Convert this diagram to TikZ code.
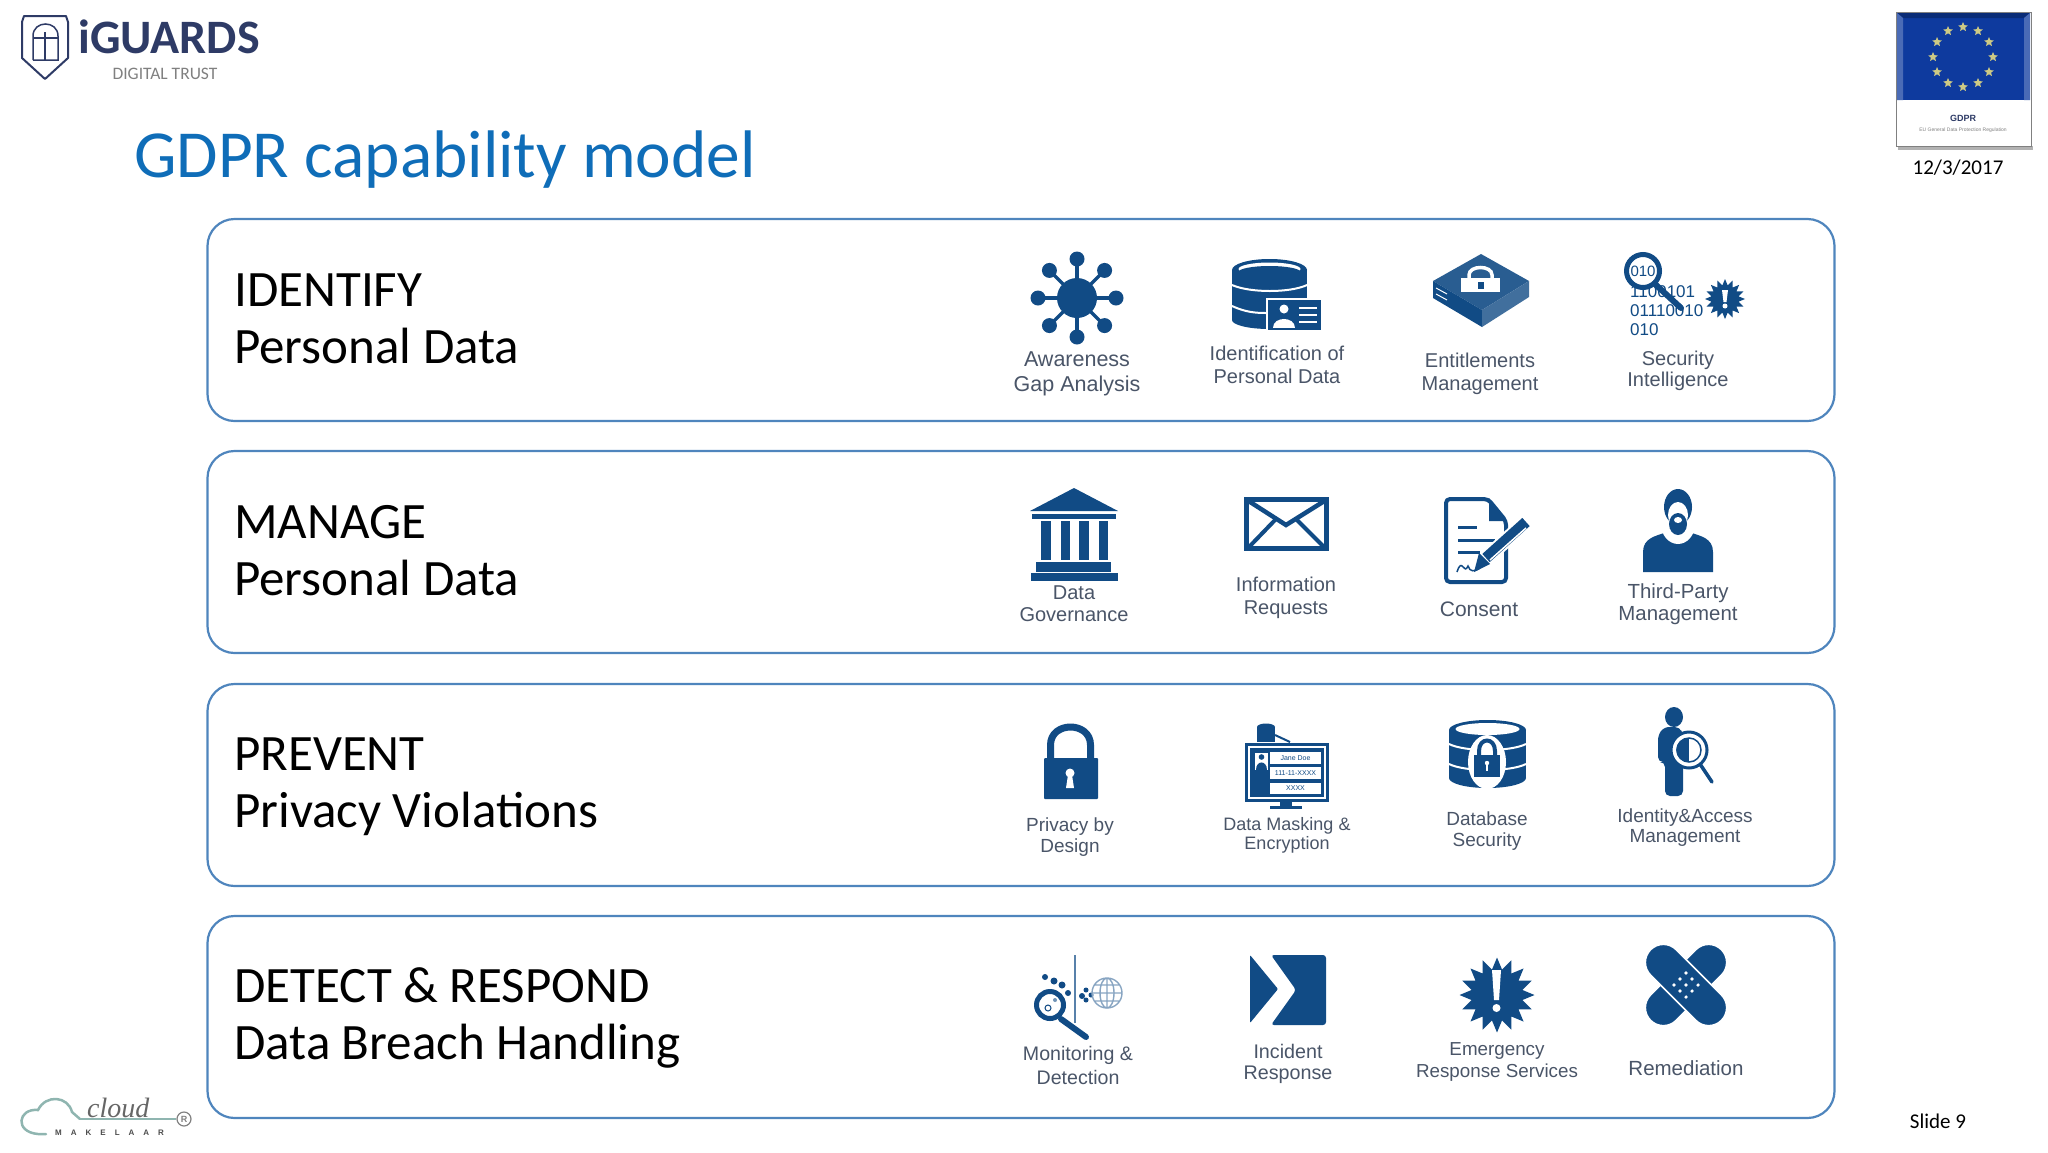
\documentclass[tikz,border=0pt]{standalone}
\usepackage{fontspec}
\setmainfont{Carlito}
\newfontfamily\arialfont{Liberation Sans}
\newfontfamily\serifitfont{Liberation Serif}
\usepackage{tikz}
\usetikzlibrary{shapes.geometric, positioning}
\definecolor{iconblue}{HTML}{114B85}
\definecolor{lblgrey}{HTML}{4A5568}
\definecolor{boxblue}{HTML}{4F85BD}
\definecolor{titleblue}{HTML}{0F6DB8}
\definecolor{navy}{HTML}{2E3B66}
\definecolor{cloudteal}{HTML}{8FB5B0}
\definecolor{flagblue}{HTML}{0E3A9E}
\tikzstyle{rowbox}=[draw=boxblue, line width=2.2pt, fill=white, rounded corners=27pt, minimum width=1627pt, minimum height=202pt, inner sep=0pt]
\tikzstyle{head}=[anchor=west, align=left, inner sep=0pt, text=black, font=\fontsize{51}{57}\selectfont]
\tikzstyle{lbl}=[align=center, inner sep=0pt, text=lblgrey, font=\arialfont\fontsize{20}{23.5}\selectfont]
\tikzstyle{slbl}=[lbl, font=\arialfont\fontsize{19}{21}\selectfont]
\tikzstyle{small}=[inner sep=0pt, text=black, font=\fontsize{21}{24}\selectfont]
\tikzstyle{ico}=[fill=iconblue, draw=none]
\tikzstyle{hole}=[fill=white, draw=none]
\tikzstyle{burst}=[star, star points=16, star point ratio=1.45, fill=iconblue, inner sep=0pt]
\tikzstyle{eustar}=[star, star points=5, star point ratio=2.2, fill=yellow!45!gray!80, inner sep=0pt, minimum size=10pt]
\begin{document}
\begin{tikzpicture}[x=1pt, y=-1pt]
 \useasboundingbox (0,0) rectangle (2048,1152);

 % logo
 \draw[navy, line width=2pt, line join=round] (24,16) -- (66,16) -- (68,22) -- (68,58) -- (45,79) -- (22,58) -- (22,22) -- cycle;
 \draw[navy, line width=1.5pt] (33,60) -- (33,36) .. controls (33,20) and (58,20) .. (58,36) -- (58,60) -- (33,60);
 \draw[navy, line width=1.5pt] (33,38) -- (58,38) (45,32) -- (45,60);
 \node[inner sep=0pt, anchor=west, text=navy, font=\fontsize{48}{48}\selectfont\bfseries] (iguards) at (78,37) {iGUARDS};
 \node[inner sep=0pt, text=gray, font=\fontsize{17.5}{20}\selectfont] (trust) at (165,74) {DIGITAL TRUST};
 \node[inner sep=0pt, anchor=west, text=titleblue, font=\fontsize{67.3}{68}\selectfont] (title) at (134,160) {GDPR capability model};

 % flag
 \fill[black!30] (1898,146) rectangle (2033,150);
 \draw[gray, fill=white] (1896,12) rectangle (2031,146);
 \fill[flagblue] (1897,13) rectangle (2030,100);
 \fill[flagblue!75!black] (1897,13) -- (2030,13) -- (2024,18) -- (1903,18) -- cycle;
 \fill[flagblue!75!white] (1897,13) -- (1903,18) -- (1903,100) -- (1897,100) -- cycle;
 \fill[flagblue!75!white] (2030,13) -- (2024,18) -- (2024,100) -- (2030,100) -- cycle;
 \coordinate (flagc) at (1963,57);
 \foreach \a in {0,30,...,330} \node[eustar] at ([shift={(\a:30)}]flagc) {};
 \node[inner sep=0pt, text=navy, font=\arialfont\fontsize{9}{10}\selectfont\bfseries] (gdpr) at (1963,118) {GDPR};
 \node[inner sep=0pt, text=gray, font=\arialfont\fontsize{5}{6}\selectfont] (gdprsub) at (1963,130) {EU General Data Protection Regulation};
 \node[small] (date) at (1958,168) {12/3/2017};
 \node[small] (slide) at (1938,1121) {Slide 9};

 % cloud logo
 \draw[cloudteal, line width=2.5pt, line cap=round] (46,1134) -- (38,1134) .. controls (14,1132) and (18,1108) .. (38,1110) .. controls (46,1094) and (68,1096) .. (72,1112) -- (80,1119);
 \draw[cloudteal, line width=2pt] (80,1119) -- (176,1119);
 \draw[gray, line width=1.2pt] (184,1119) circle (7);
 \node[inner sep=0pt, text=gray, font=\arialfont\fontsize{9}{9}\selectfont\bfseries] (reg) at (184,1119) {R};
 \node[inner sep=0pt, anchor=west, text=gray!80!black, font=\serifitfont\itshape\fontsize{28}{28}\selectfont] (cloud) at (87,1108) {cloud};
 \node[inner sep=0pt, anchor=west, text=gray!60!black, font=\arialfont\fontsize{8}{8}\selectfont\bfseries] (makelaar) at (55,1133) {M\hspace{9pt}A\hspace{9pt}K\hspace{9pt}E\hspace{9pt}L\hspace{9pt}A\hspace{9pt}A\hspace{9pt}R};

 % rows
 \node[rowbox] (rowa) at (1021,320) {};
 \node[rowbox] (rowb) at (1021,552) {};
 \node[rowbox] (rowc) at (1021,785) {};
 \node[rowbox] (rowd) at (1021,1017) {};
 \node[head] (identify) at (234,319) {IDENTIFY\\Personal Data};
 \node[head] (manage) at (234,551) {MANAGE\\Personal Data};
 \node[head] (prevent) at (234,787) {PREVENT\\Privacy Violations};
 \node[head] (detect) at (234,1018) {DETECT \& RESPOND\\Data Breach Handling};

 % labels
 \node[lbl, font=\arialfont\fontsize{21.5}{24.5}\selectfont] (awareness) at (1077,374) {Awareness\\Gap Analysis};
 \node[lbl] (identification) at (1277,365) {Identification of\\Personal Data};
 \node[lbl] (entitlements) at (1480,374) {Entitlements\\Management};
 \node[lbl, font=\arialfont\fontsize{20}{21.5}\selectfont] (intelligence) at (1678,371) {Security\\Intelligence};
 \node[lbl, font=\arialfont\fontsize{20}{22}\selectfont] (governance) at (1074,604) {Data\\Governance};
 \node[lbl] (requests) at (1286,598) {Information\\Requests};
 \node[lbl, font=\arialfont\fontsize{21}{24}\selectfont] (consent) at (1479,609) {Consent};
 \node[lbl, font=\arialfont\fontsize{20.4}{21.5}\selectfont] (thirdparty) at (1678,604) {Third-Party\\Management};
 \node[slbl] (privacy) at (1070,837) {Privacy by\\Design};
 \node[slbl, font=\arialfont\fontsize{18}{19}\selectfont] (masking) at (1287,835) {Data Masking \&\\Encryption};
 \node[slbl] (dbsecurity) at (1487,831) {Database\\Security};
 \node[slbl, font=\arialfont\fontsize{19}{20}\selectfont] (access) at (1685,828) {Identity\&Access\\Management};
 \node[lbl, font=\arialfont\fontsize{19.6}{24}\selectfont] (monitoring) at (1078,1065) {Monitoring \&\\Detection};
 \node[lbl, font=\arialfont\fontsize{19.7}{21}\selectfont] (incident) at (1288,1064) {Incident\\Response};
 \node[slbl, font=\arialfont\fontsize{18.8}{22}\selectfont] (emergency) at (1497,1062) {Emergency\\Response Services};
 \node[lbl, font=\arialfont\fontsize{20.5}{24}\selectfont] (remediation) at (1686,1068) {Remediation};

 % awareness
 \foreach \a in {0,45,...,315} {
   \draw[iconblue, line width=3.5pt] (1077,298) -- ++(\a:38);
   \fill[iconblue] (1077,298) ++(\a:39) circle (7.5);
 }
 \fill[ico] (1077,298) circle (20);

 % identification
 \fill[ico] (1232,270) rectangle (1307,320);
 \fill[ico] (1269.5,320) ellipse [x radius=37.5, y radius=9];
 \fill[ico] (1269.5,270) ellipse [x radius=37.5, y radius=11];
 \fill[hole] (1269.5,269) ellipse [x radius=31, y radius=6.5];
 \fill[ico] (1269.5,272) ellipse [x radius=31, y radius=6];
 \draw[white, line width=2pt] (1232,285) .. controls (1250,293) and (1290,293) .. (1307,285);
 \draw[white, line width=2pt] (1232,306) .. controls (1245,312) and (1255,313) .. (1266,313);
 \draw[ico, draw=white, line width=1.5pt] (1267,299) rectangle (1322,331);
 \fill[hole] (1284,309) circle (4.5);
 \fill[hole] (1273,328) .. controls (1273,316) and (1295,316) .. (1295,328) -- cycle;
 \draw[white, line width=1.4pt] (1299,308) -- (1317,308) (1299,315) -- (1317,315) (1299,322) -- (1317,322);

 % entitlements
 \fill[iconblue!90!white] (1481,254) -- (1529,281) -- (1482,310) -- (1433,281) -- cycle;
 \fill[iconblue] (1433,281) -- (1482,310) -- (1482,327) -- (1433,298) -- cycle;
 \fill[iconblue!80!white] (1529,281) -- (1529,297) -- (1482,327) -- (1482,310) -- cycle;
 \draw[white, line width=1pt] (1436,288) -- (1447,294) (1436,294) -- (1447,300);
 \fill[hole] (1461,278) rectangle (1500,292);
 \draw[white, line width=3.5pt] (1469,278) -- (1469,275) .. controls (1469,265) and (1492,265) .. (1492,275) -- (1492,278);
 \fill[iconblue] (1478,282) rectangle (1484,289);

 % security intelligence
 \node[inner sep=0pt, anchor=west, text=iconblue, font=\arialfont\fontsize{17}{18}\selectfont] (binb) at (1630,292) {1100101};
 \node[inner sep=0pt, anchor=west, text=iconblue, font=\arialfont\fontsize{17}{18}\selectfont] (binc) at (1630,311) {01110010};
 \node[inner sep=0pt, anchor=west, text=iconblue, font=\arialfont\fontsize{17}{18}\selectfont] (bind) at (1630,330) {010};
 \draw[iconblue, line width=6pt, line cap=round] (1656,285) -- (1681,308);
 \draw[iconblue, fill=white, line width=5pt] (1643,271) circle (16.5);
 \node[inner sep=0pt, text=iconblue, font=\arialfont\fontsize{15}{16}\selectfont] (bina) at (1643,271) {010};
 \node[burst, minimum size=40pt] (bursta) at (1725,299) {};
 \fill[hole] (1722,290) -- (1728,290) -- (1726.5,302) -- (1723.5,302) -- cycle;
 \fill[hole] (1725,306) circle (2.5);

 % governance
 \fill[ico] (1074,488) -- (1118,511) -- (1030,511) -- cycle;
 \fill[ico] (1032,514) rectangle (1116,519);
 \foreach \x in {1041,1060.5,1079,1098.5} \fill[ico] (\x,521) rectangle (\x+9.5,560);
 \fill[ico] (1036,562) rectangle (1111,572);
 \fill[ico] (1031,573) rectangle (1118,581);

 % requests
 \draw[iconblue, fill=white, line width=5pt] (1246.5,499.5) rectangle (1326.5,548.5);
 \draw[iconblue, line width=4.5pt] (1247,500) -- (1286,525) -- (1326,500);
 \draw[iconblue, line width=4pt] (1249,547) -- (1276,519) (1324,547) -- (1296,519);

 % consent
 \draw[iconblue, fill=white, line width=4pt, rounded corners=4pt] (1446,499) -- (1488,499) -- (1506,521) -- (1506,582) -- (1446,582) -- cycle;
 \fill[ico] (1489,498) -- (1507,521) -- (1489,521) -- cycle;
 \draw[iconblue, line width=3pt] (1458,527) -- (1477,527) (1458,540) -- (1495,540) (1458,552) -- (1480,552);
 \draw[iconblue, line width=1.5pt] (1457,572) .. controls (1462,556) and (1464,576) .. (1468,566) .. controls (1470,572) and (1474,572) .. (1480,568);
 \draw[white, line width=15pt] (1484,560) -- (1526,522);
 \draw[iconblue, line width=11pt] (1486,558) -- (1526,522);
 \draw[white, line width=1.5pt] (1490,560) -- (1526,528);
 \fill[ico] (1474,572) -- (1479,553) -- (1490,564) -- cycle;

 % third party
 \fill[ico] (1643,572) -- (1643,552) .. controls (1643,538) and (1656,536) .. (1664,533) -- (1692,533) .. controls (1700,536) and (1713,538) .. (1713,552) -- (1713,572) -- cycle;
 \fill[hole] (1678,524) ellipse [x radius=17, y radius=20];
 \fill[ico] (1678,507) ellipse [x radius=14, y radius=18];
 \fill[hole] (1678,515) ellipse [x radius=10, y radius=13];
 \fill[ico] (1678,524) ellipse [x radius=9, y radius=11];
 \fill[hole] (1678,520) ellipse [x radius=4, y radius=3];

 % privacy
 \draw[iconblue, line width=7pt] (1050.5,760) -- (1050.5,745) .. controls (1050.5,721) and (1090.5,721) .. (1090.5,745) -- (1090.5,760);
 \fill[ico, rounded corners=1pt] (1044,758) rectangle (1098,799);
 \fill[hole] (1070,773) circle (4.5);
 \fill[hole] (1068,775) -- (1072,775) -- (1074,788) -- (1066,788) -- cycle;

 % masking
 \fill[ico] (1257,727) rectangle (1275,742);
 \fill[ico] (1266,727) ellipse [x radius=9, y radius=3.5];
 \draw[iconblue, line width=2pt] (1275,735) -- (1290,742);
 \draw[iconblue, fill=white, line width=3pt] (1246.5,744.5) rectangle (1327.5,800);
 \fill[ico] (1250,748) rectangle (1324,797);
 \fill[ico] (1280,800) rectangle (1292,806);
 \fill[ico] (1270,806) rectangle (1302,809);
 \fill[hole] (1255,753) rectangle (1268,770);
 \fill[ico] (1261.5,757) circle (2.8);
 \fill[ico] (1256,770) .. controls (1256,760) and (1267,760) .. (1267,770) -- cycle;
 \node[hole, text=iconblue, minimum width=51pt, minimum height=12pt, inner sep=0pt, font=\arialfont\fontsize{7}{8}\selectfont] (jane) at (1295.5,758) {Jane Doe};
 \node[hole, text=iconblue, minimum width=51pt, minimum height=12pt, inner sep=0pt, font=\arialfont\fontsize{7}{8}\selectfont] (ssn) at (1295.5,773) {111-11-XXXX};
 \node[hole, text=iconblue, minimum width=51pt, minimum height=11pt, inner sep=0pt, font=\arialfont\fontsize{7}{8}\selectfont] (xxxx) at (1295.5,788.5) {XXXX};

 % database security
 \fill[ico] (1449,730) rectangle (1526,778);
 \fill[ico] (1487.5,778) ellipse [x radius=38.5, y radius=10];
 \fill[ico] (1487.5,730) ellipse [x radius=38.5, y radius=10];
 \fill[hole] (1487.5,729) ellipse [x radius=32, y radius=6];
 \draw[white, line width=2pt] (1449,744) .. controls (1465,752) and (1510,752) .. (1526,744);
 \draw[white, line width=2pt] (1449,764) .. controls (1465,772) and (1510,772) .. (1526,764);
 \fill[hole] (1487,762) ellipse [x radius=19, y radius=27];
 \draw[iconblue, line width=4pt] (1479,757) -- (1479,751) .. controls (1479,737) and (1495,737) .. (1495,751) -- (1495,757);
 \fill[ico] (1474,755) rectangle (1500,777);
 \fill[hole] (1487,763) circle (2.2);
 \fill[hole] (1486,764) rectangle (1488,771);

 % identity
 \fill[ico] (1674,717) ellipse [x radius=9, y radius=10];
 \fill[ico, rounded corners=5pt] (1658,762) -- (1658,735) -- (1664,727) -- (1680,727) -- (1683,735) -- (1683,796) -- (1665,796) -- (1665,762) -- cycle;
 \draw[iconblue, line width=3.5pt, line cap=round] (1700,764) -- (1712,782);
 \draw[iconblue, fill=white, line width=3pt] (1689,750) circle (18);
 \fill[ico] (1689,738) .. controls (1672,738) and (1672,762) .. (1689,762) -- cycle;
 \draw[iconblue, line width=1.5pt] (1689,750) circle (12);

 % monitoring
 \draw[iconblue!70!white, line width=2pt] (1075,955) -- (1075,1023);
 \draw[iconblue, line width=6pt, line cap=round] (1061,1019) -- (1086,1037);
 \draw[iconblue, fill=white, line width=5pt] (1050,1005) circle (13.5);
 \draw[iconblue, line width=1pt] (1048,1008) circle (3);
 \fill[iconblue!60!white] (1055,1000) circle (2);
 \foreach \px/\py/\pr in {1045/977/3,1054/981/3.5,1062/985/3.5,1068/993/3,1082/996/3,1086/990/2.5,1086/1000/2.5,1091/995/2.5}
   \fill[iconblue] (\px,\py) circle (\pr);
 \draw[iconblue!50!white, line width=1.4pt] (1107,993) circle (15) (1107,993) ellipse [x radius=7, y radius=15] (1092,993) -- (1122,993) (1094,985) -- (1120,985) (1094,1001) -- (1120,1001) (1107,978) -- (1107,1008);

 % incident
 \fill[ico, rounded corners=1pt] (1250,955) -- (1278,989) -- (1250,1023) -- cycle;
 \fill[ico, rounded corners=3pt] (1271,955) -- (1326,955) -- (1326,1025) -- (1271,1025) -- (1296,990) -- cycle;

 % emergency
 \node[burst, minimum size=75pt] (burstb) at (1497,995) {};
 \fill[hole] (1492,970) -- (1501,970) -- (1499,1000) -- (1494,1000) -- cycle;
 \fill[hole] (1496.5,1008) circle (4);

 % remediation
 \node[fill=iconblue, draw=white, line width=1.5pt, rotate=45, minimum width=100pt, minimum height=36pt, rounded corners=18pt, inner sep=0pt] (banda) at (1686,985) {};
 \node[fill=iconblue, draw=white, line width=1.5pt, rotate=-45, minimum width=100pt, minimum height=36pt, rounded corners=18pt, inner sep=0pt] (bandb) at (1686,985) {};
 \foreach \u in {-1,0,1} \foreach \v in {-1,0,1} \fill[hole] (1686,985) ++(45:\u*8.5) ++(-45:\v*8.5) circle (1.8);
\end{tikzpicture}
\end{document}
